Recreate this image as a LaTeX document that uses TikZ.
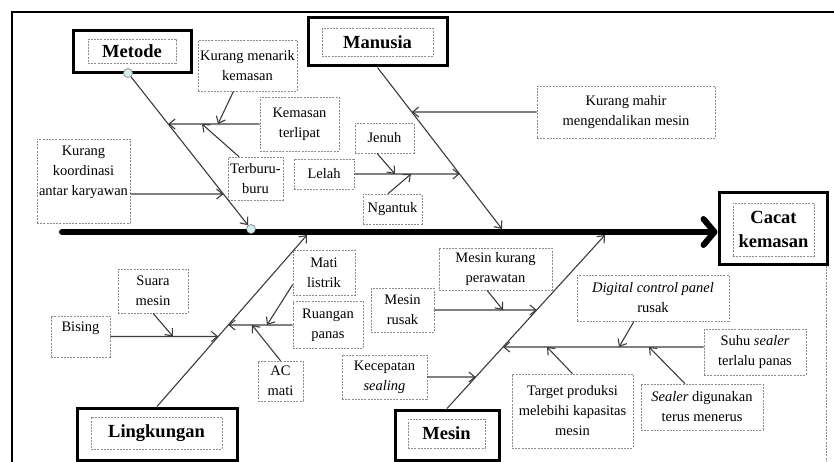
\documentclass[tikz,border=0pt]{standalone}
\usepackage{fontspec}
\setmainfont{Liberation Serif}
\usetikzlibrary{arrows.meta,calc}

\definecolor{linegray}{HTML}{3C3C3C}
\definecolor{boxgray}{HTML}{8C8C8C}
\definecolor{jointblue}{HTML}{D4ECF2}

\tikzset{
  sz/.style 2 args={minimum width=#1pt, minimum height=#2pt},
  cause/.style={draw=boxgray, dash pattern=on 2pt off 1.2pt, line width=0.6pt,
    fill=white, align=center, inner sep=1pt,
    font=\fontsize{14.5}{20}\selectfont},
  headframe/.style={draw=black, line width=3pt, fill=white, inner sep=0pt},
  headlabel/.style={draw=boxgray, dash pattern=on 2pt off 1.2pt, line width=0.6pt,
    align=center, inner sep=0pt, font=\bfseries\fontsize{18.5}{24}\selectfont},
  arr/.style={draw=linegray, line width=1.1pt,
    -{Straight Barb[length=6pt,width=10pt]}},
  joint/.style={circle, draw=gray, line width=0.6pt, fill=jointblue,
    minimum size=9pt, inner sep=0pt},
  spine/.style={line width=6pt, line cap=round,
    -{Straight Barb[length=11pt,width=26pt,round]}},
}

\begin{document}
\begin{tikzpicture}[x=1pt,y=-1pt]
\useasboundingbox (0,0) rectangle (834,462);
\fill[white] (0,0) rectangle (834,462);

% outer frame
\draw[line width=2pt] (12,463) -- (12,12) -- (835,12);

% category heads
\node[headframe, sz={118}{42}] (metodeF) at (132,52) {};
\node[headlabel, sz={88}{24}] (metode) at (132,51) {Metode};
\node[headframe, sz={139}{48}] (manusiaF) at (377.5,42) {};
\node[headlabel, sz={111}{28}] (manusia) at (377.5,42) {Manusia};
\node[headframe, sz={160}{52}] (lingF) at (157,434) {};
\node[headlabel, sz={131}{32}] (ling) at (156.5,433) {Lingkungan};
\node[headframe, sz={104}{50}] (mesinF) at (447,435) {};
\node[headlabel, sz={77}{29}] (mesin) at (446.5,433.5) {Mesin};
\node[headframe, sz={108}{71}] (cacatF) at (773,228.5) {};
\node[headlabel, sz={81}{53}] (cacat) at (773.5,229.5) {Cacat\\kemasan};
\draw[draw=boxgray, dash pattern=on 2pt off 1.2pt, line width=0.6pt]
  ([xshift=-2pt]cacatF.south east) -- ++(0,205);

% causes: Metode
\node[cause, sz={99}{51}] (km) at (247.5,65.5) {Kurang menarik\\kemasan};
\node[cause, sz={79}{54}] (kt) at (299.5,124) {Kemasan\\terlipat};
\node[cause, sz={55}{43}] (tb) at (255.5,178.5) {Terburu-\\buru};
\node[cause, sz={93}{84}] (kk) at (83.5,181) {Kurang\\koordinasi\\antar karyawan\\\mbox{}};

% causes: Manusia
\node[cause, sz={59}{30}] (je) at (384.5,138) {Jenuh};
\node[cause, sz={60}{30}] (le) at (324,174) {Lelah};
\node[cause, sz={59}{30}] (ng) at (392.5,209) {Ngantuk};
\node[cause, sz={178}{52}] (kmh) at (626,112) {Kurang mahir\\mengendalikan mesin};

% causes: Lingkungan
\node[cause, sz={59}{41}] (bi) at (80.5,336.5) {Bising\\\mbox{}};
\node[cause, sz={70}{44}] (sm) at (153,291) {Suara\\mesin};
\node[cause, sz={62}{45}] (ml) at (324,272.5) {Mati\\listrik};
\node[cause, sz={70}{47}] (rp) at (328,325) {Ruangan\\panas};
\node[cause, sz={45}{40}] (ac) at (280.5,381) {AC\\mati};

% causes: Mesin
\node[cause, sz={63}{44}] (mr) at (402.5,310) {Mesin\\rusak};
\node[cause, sz={113}{42}] (mkp) at (495.5,269) {Mesin kurang\\perawatan};
\node[cause, sz={85}{44}] (ks) at (384.5,377) {Kecepatan\\\textit{sealing}};
\node[cause, sz={152}{46}] (dcp) at (653,298) {\textit{Digital control panel}\\rusak};
\node[cause, sz={102}{46}] (ss) at (755,352) {Suhu \textit{sealer}\\terlalu panas};
\node[cause, sz={122}{46}] (sd) at (702,407) {\textit{Sealer} digunakan\\terus menerus};
\node[cause, sz={121}{74}] (tp) at (572.5,411) {Target produksi\\melebihi kapasitas\\mesin};

% spine
\coordinate (spL) at (62,232);
\draw[spine] (spL) -- (spL -| cacatF.west);

% bone ends on the spine
\node[joint] (c1) at (128,73) {};
\node[joint] (c2) at (251,229) {};
\coordinate (mB) at (502,229);
\coordinate (lB) at (307,235);
\coordinate (sB) at (605,235);

\draw[arr] (c1) -- (c2);
\draw[arr] (manusiaF.south) -- (mB);
\draw[arr] (lingF.north) -- (lB);
\draw[arr] (mesinF.north) -- (sB);

% helper points for shifted branches
\coordinate (kkA) at ([yshift=-13pt]kk.east);
\coordinate (kkB) at ([yshift=-13pt]kk.west);
\coordinate (ssA) at ([yshift=5pt]ss.west);
\coordinate (ssB) at ([yshift=5pt]ss.east);

% junctions on the bones
\coordinate (jt) at (intersection of c1--c2 and kt.west--kt.east);
\coordinate (jk) at (intersection of c1--c2 and kkA--kkB);
\coordinate (jkm) at (intersection of manusiaF.south--mB and kmh.west--kmh.east);
\coordinate (jle) at (intersection of manusiaF.south--mB and le.west--le.east);
\coordinate (jbi) at (intersection of lingF.north--lB and bi.west--bi.east);
\coordinate (jrp) at (intersection of lingF.north--lB and rp.west--rp.east);
\coordinate (jmr) at (intersection of mesinF.north--sB and mr.west--mr.east);
\coordinate (jks) at (intersection of mesinF.north--sB and ks.west--ks.east);
\coordinate (jss) at (intersection of mesinF.north--sB and ssA--ssB);

% points on the branches
\coordinate (pkm) at (218,124);
\coordinate (ptb) at (202,124);
\coordinate (pje) at (395,174);
\coordinate (png) at (411,174);
\coordinate (psm) at (173,336.5);
\coordinate (pml) at (267,325);
\coordinate (pac) at (252,325);
\coordinate (pmkp) at (503,310);
\coordinate (pdcp) at (619,347);
\coordinate (psd) at (649,347);
\coordinate (ptp) at (547,347);

% branches
\draw[arr] (kt.west) -- (jt);
\draw[arr] (kkA) -- (jk);
\draw[arr] ([xshift=-14pt]km.south) -- (pkm);
\draw[arr] ([xshift=-16.5pt]tb.north) -- (ptb);

\draw[arr] (kmh.west) -- (jkm);
\draw[arr] (le.east) -- (jle);
\draw[arr] ([xshift=-7.5pt]je.south) -- (pje);
\draw[arr] ([xshift=-4.5pt]ng.north) -- (png);

\draw[arr] (bi.east) -- (jbi);
\draw[arr] (sm.south) -- (psm);
\draw[arr] (rp.west) -- (jrp);
\draw[arr] ([yshift=-12pt]ml.west) -- (pml);
\draw[arr] (ac.north) -- (pac);

\draw[arr] (mr.east) -- (jmr);
\draw[arr] ([xshift=-8.5pt]mkp.south) -- (pmkp);
\draw[arr] (ks.east) -- (jks);
\draw[arr] (ssA) -- (jss);
\draw[arr] ([xshift=-19pt]dcp.south) -- (pdcp);
\draw[arr] ([xshift=-17pt]sd.north) -- (psd);
\draw[arr] (tp.north) -- (ptp);
\end{tikzpicture}
\end{document}
